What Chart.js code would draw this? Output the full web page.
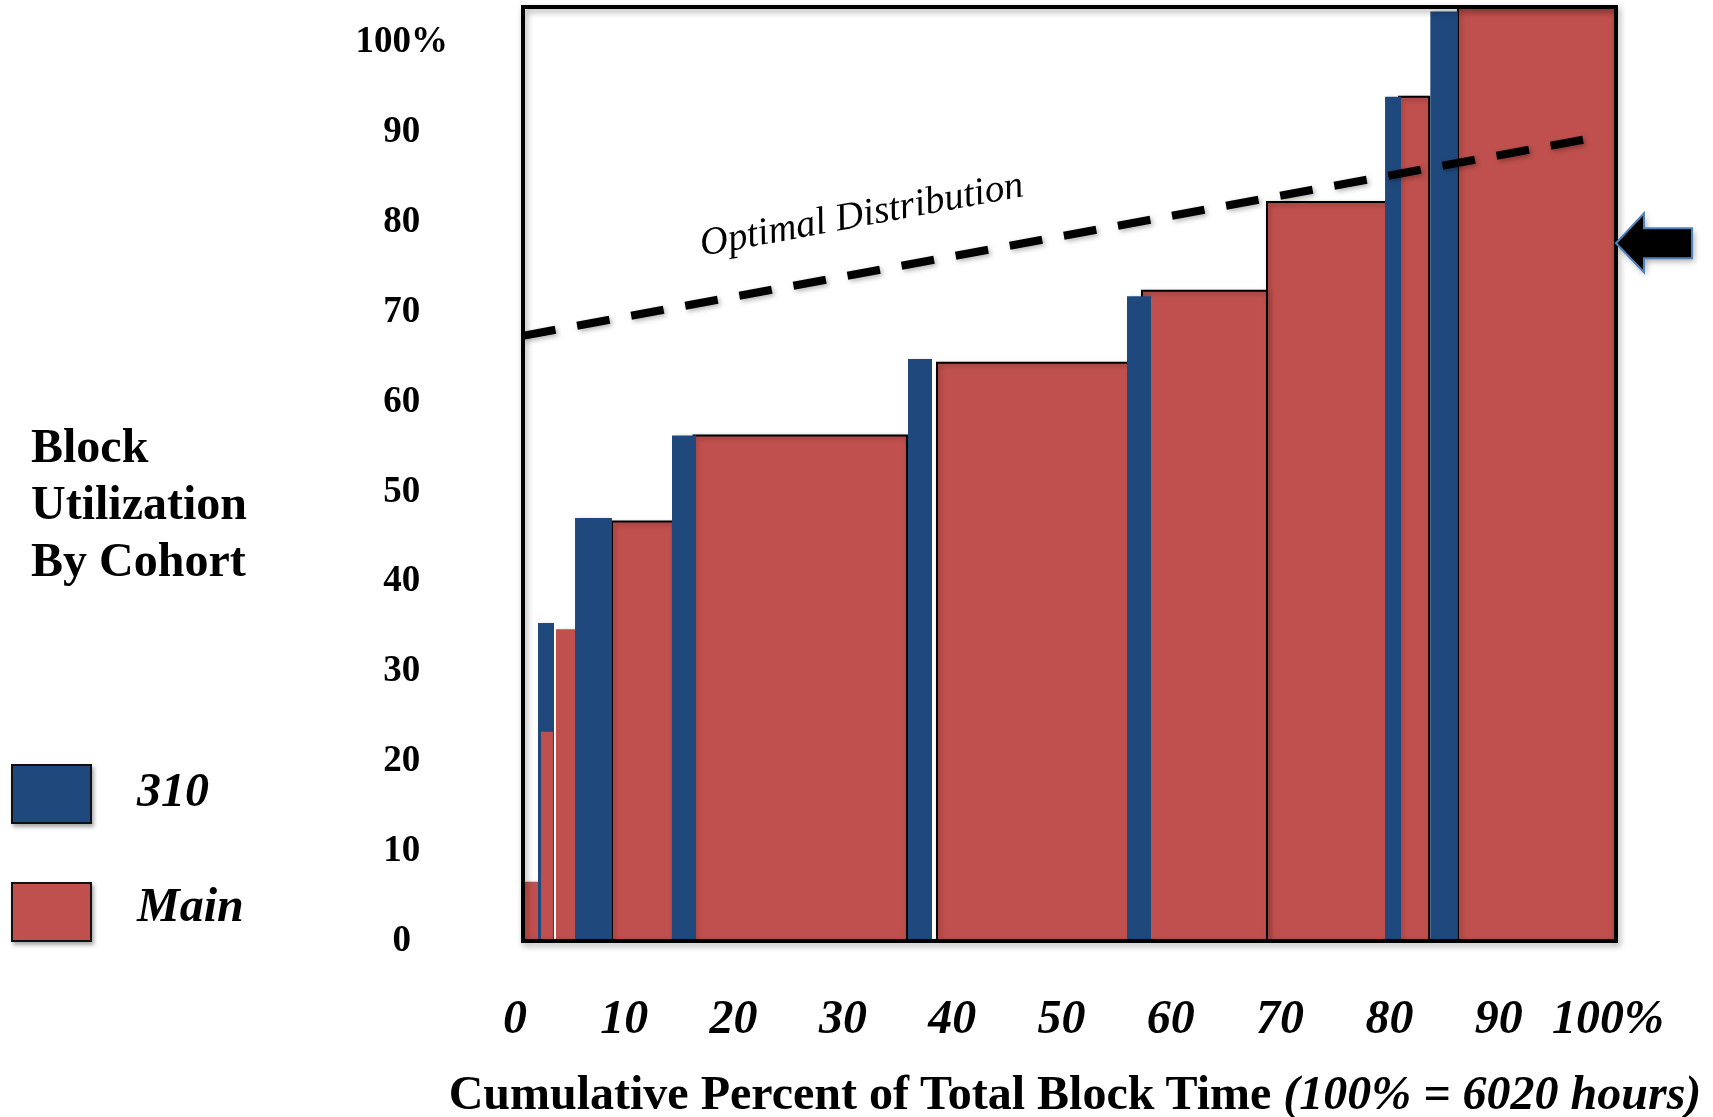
<!DOCTYPE html>
<html lang="en">
<head>
<meta charset="UTF-8">
<title>Block Utilization By Cohort</title>
<script src="https://cdn.jsdelivr.net/npm/chart.js@4.4.1/dist/chart.umd.min.js"></script>
<style>
  body { margin: 0; background: #fff; }
  .lienzo {
    position: relative; width: 1713px; height: 1117px;
    font-family: "Liberation Serif", "Times New Roman", serif; color: #000;
  }
  #graficaBloques { position: absolute; left: 0; top: 0; }
  .titulo-lateral {
    position: absolute; left: 31px; top: 417px;
    font-size: 48px; line-height: 57px; font-weight: bold;
  }
  .leyenda-caja {
    position: absolute; left: 11px; width: 77px; height: 56px;
    border: 2px solid #111; box-shadow: 2px 3px 4px rgba(0,0,0,.35);
  }
  .leyenda-texto {
    position: absolute; left: 137px;
    font-size: 48px; line-height: 48px; font-weight: bold; font-style: italic;
  }
  .titulo-x {
    position: absolute; left: 1075px; top: 1069px; transform: translateX(-50%);
    white-space: nowrap; font-size: 48px; line-height: 48px; font-weight: bold;
  }
</style>
</head>
<body>
<div class="lienzo" id="lienzo">
  <canvas id="graficaBloques" width="1713" height="1117"></canvas>
  <div class="titulo-lateral">Block<br>Utilization<br>By Cohort</div>
  <div class="titulo-x" id="tituloX"></div>
</div>
<script>
// --- Datos ---
const ticksX = [0, 10, 20, 30, 40, 50, 60, 70, 80, 90, 100];
const ticksY = [0, 10, 20, 30, 40, 50, 60, 70, 80, 90, 100];

// Cohorte "Main": inicio y fin (% acumulado del tiempo) y utilización (%)
const mainInicio = [0, 1.65, 3.0, 8.14, 15.6, 37.88, 56.63, 68.07, 80.15, 85.54];
const mainFin    = [1.46, 2.74, 5.21, 13.72, 35.13, 56.63, 68.07, 79.51, 82.91, 100];
const mainValor  = [6.6, 23.3, 34.7, 46.7, 56.3, 64.4, 72.4, 82.3, 94.0, 103.9];

// Cohorte "310"
const c310Inicio = [1.37, 4.76, 13.63, 35.22, 55.26, 78.87, 83.0];
const c310Fin    = [2.84, 8.14, 15.83, 37.42, 57.46, 80.33, 85.54];
const c310Valor  = [35.4, 47.1, 56.3, 64.8, 71.8, 94.0, 103.5];

// Distribución óptima (línea discontinua)
const optimaX = [0, 98.7];
const optimaY = [67.4, 89.6];

const series = ['310', 'Main'];
const colores = ['#1F497D', '#C0504D'];
const notaTexto = 'Optimal Distribution';
const notaX = 16.4, notaY = 76.3;   // donde empieza el texto
const flechaY = 77.7;               // flecha a la derecha
const tituloX = 'Cumulative Percent of Total Block Time';
const tituloXExtra = '(100% = 6020 hours)';

document.addEventListener('DOMContentLoaded', function() {
    // Título del eje X (parte normal + parte en cursiva)
    const tx = document.getElementById('tituloX');
    tx.textContent = tituloX + ' ';
    const it = document.createElement('i');
    it.textContent = tituloXExtra;
    tx.appendChild(it);

    // Leyenda a la izquierda
    const lienzo = document.getElementById('lienzo');
    const topsCaja = [764, 882];
    const topsTexto = [766, 881];
    series.forEach((nombre, i) => {
        const caja = document.createElement('div');
        caja.className = 'leyenda-caja';
        caja.style.top = topsCaja[i] + 'px';
        caja.style.background = colores[i];
        lienzo.appendChild(caja);
        const txt = document.createElement('div');
        txt.className = 'leyenda-texto';
        txt.style.top = topsTexto[i] + 'px';
        txt.textContent = nombre;
        lienzo.appendChild(txt);
    });

    // Rectángulo como polilínea (se rellena hasta el origen)
    function rectangulo(x0, x1, h) {
        return [{x: x0, y: 0}, {x: x0, y: h}, {x: x1, y: h}, {x: x1, y: 0}];
    }

    const datasets = [];

    mainInicio.forEach((x0, i) => {
        const x1 = mainFin[i];
        // si queda dentro de una barra 310, va encima
        const dentro = c310Inicio.some((c, j) => c <= x0 && x1 <= c310Fin[j]);
        const ancho = x1 - x0 > 2.5;
        datasets.push({
            label: 'Main',
            data: rectangulo(x0, x1, mainValor[i]),
            backgroundColor: colores[1],
            borderColor: ancho ? '#000' : 'rgba(0,0,0,0)',
            borderWidth: 2,
            fill: 'origin',
            order: dentro ? 1 : 3
        });
    });

    c310Inicio.forEach((x0, i) => {
        datasets.push({
            label: '310',
            data: rectangulo(x0, c310Fin[i], c310Valor[i]),
            backgroundColor: colores[0],
            borderColor: 'rgba(0,0,0,0)',
            borderWidth: 1,
            fill: 'origin',
            order: 2
        });
    });

    datasets.push({
        label: notaTexto,
        data: optimaX.map((x, i) => ({x: x, y: optimaY[i]})),
        borderColor: '#000',
        borderWidth: 8,
        borderDash: [33, 22],
        borderCapStyle: 'butt',
        fill: false,
        order: 0
    });

    // Sombra suave debajo de las barras
    const sombraBarras = {
        id: 'sombraBarras',
        beforeDatasetsDraw(chart) {
            const c = chart.ctx;
            c.save();
            c.shadowColor = 'rgba(0,0,0,0.3)';
            c.shadowBlur = 5;
            c.shadowOffsetX = 2;
            c.shadowOffsetY = 2;
        },
        afterDatasetsDraw(chart) {
            chart.ctx.restore();
        }
    };

    // Marco, texto de la línea óptima y flecha
    const marcoYNotas = {
        id: 'marcoYNotas',
        afterDraw(chart) {
            const {ctx, chartArea: a, scales: {x, y}} = chart;
            ctx.save();
            ctx.shadowColor = 'rgba(0,0,0,0.35)';
            ctx.shadowBlur = 6;
            ctx.shadowOffsetX = 2;
            ctx.shadowOffsetY = 3;
            ctx.strokeStyle = '#000';
            ctx.lineWidth = 4;
            ctx.strokeRect(a.left, a.top, a.right - a.left, a.bottom - a.top);

            // flecha
            const px = a.right, py = y.getPixelForValue(flechaY);
            ctx.beginPath();
            ctx.moveTo(px, py);
            ctx.lineTo(px + 28, py - 30);
            ctx.lineTo(px + 28, py - 15);
            ctx.lineTo(px + 76, py - 15);
            ctx.lineTo(px + 76, py + 15);
            ctx.lineTo(px + 28, py + 15);
            ctx.lineTo(px + 28, py + 29);
            ctx.closePath();
            ctx.fillStyle = '#000';
            ctx.fill();
            ctx.shadowColor = 'rgba(0,0,0,0)';
            ctx.strokeStyle = '#4F81BD';
            ctx.lineWidth = 2;
            ctx.stroke();
            ctx.restore();

            // texto rotado
            ctx.save();
            ctx.translate(x.getPixelForValue(notaX), y.getPixelForValue(notaY));
            ctx.rotate(-10.5 * Math.PI / 180);
            ctx.font = 'italic 39px "Liberation Serif"';
            ctx.fillStyle = '#000';
            ctx.textBaseline = 'alphabetic';
            ctx.textAlign = 'left';
            ctx.fillText(notaTexto, 0, 0);
            ctx.restore();
        }
    };

    const ctxBloques = document.getElementById('graficaBloques');

    new Chart(ctxBloques, {
        type: 'line',
        data: { datasets: datasets },
        options: {
            responsive: false,
            animation: false,
            devicePixelRatio: 1,
            layout: { padding: { left: 0, right: 97, top: 7, bottom: 0 } },
            elements: {
                point: { radius: 0 },
                line: { tension: 0, borderJoinStyle: 'miter' }
            },
            plugins: {
                legend: { display: false },
                tooltip: { enabled: false }
            },
            scales: {
                x: {
                    type: 'linear',
                    min: 0,
                    max: 100,
                    grid: { display: false },
                    border: { display: false },
                    afterBuildTicks: (eje) => { eje.ticks = ticksX.map(v => ({value: v})); },
                    afterFit: (eje) => {
                        eje.height = 176;
                        eje.paddingLeft = 0;
                        eje.paddingRight = 0;
                    },
                    ticks: {
                        autoSkip: false,
                        maxRotation: 0,
                        minRotation: 0,
                        padding: 43,
                        labelOffset: -8,
                        color: '#000',
                        font: { family: '"Liberation Serif"', size: 48, weight: 'bold', style: 'italic' },
                        callback: (v) => v === 100 ? '100%' : v
                    }
                },
                y: {
                    min: 0,
                    max: 104,
                    grid: { display: false },
                    border: { display: false },
                    afterBuildTicks: (eje) => { eje.ticks = ticksY.map(v => ({value: v})); },
                    afterFit: (eje) => {
                        eje.width = 523;
                        eje.paddingTop = 0;
                        eje.paddingBottom = 0;
                    },
                    ticks: {
                        autoSkip: false,
                        crossAlign: 'center',
                        padding: 67,
                        labelOffset: 0,
                        color: '#000',
                        font: { family: '"Liberation Serif"', size: 37, weight: 'bold' },
                        callback: (v) => v === 100 ? '100%' : v
                    }
                }
            }
        },
        plugins: [sombraBarras, marcoYNotas]
    });
});
</script>
</body>
</html>
